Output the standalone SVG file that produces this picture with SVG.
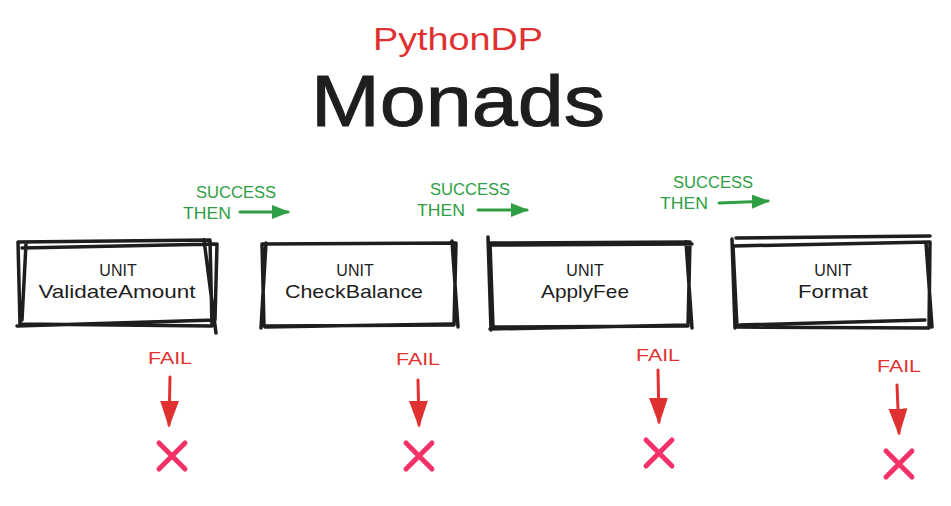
<svg xmlns="http://www.w3.org/2000/svg" width="951" height="506" viewBox="0 0 951 506">
<style>
.box{fill:none;stroke:#1e1e1e;stroke-width:3.5;stroke-linecap:round;stroke-linejoin:round}
.lbl{font-family:"Liberation Sans",Arial,sans-serif;fill:#1e1e1e;text-anchor:middle}
.g{font-family:"Liberation Sans",Arial,sans-serif;fill:#2f9e44;font-size:16px;text-anchor:middle}
.r{font-family:"Liberation Sans",Arial,sans-serif;fill:#e03131;font-size:16px;text-anchor:middle}
.ga{stroke:#2f9e44;stroke-width:3;fill:none;stroke-linecap:round}
.ra{stroke:#e03131;stroke-width:3;fill:none;stroke-linecap:round}
.x{stroke:#f5316a;stroke-width:5;stroke-linecap:round;fill:none}
</style>
<defs>
<marker id="gh" viewBox="0 0 10 10" refX="9" refY="5" markerWidth="6" markerHeight="6" orient="auto" markerUnits="strokeWidth"><path d="M0,1 L10,5 L0,9 Z" fill="#2f9e44"/></marker>
<marker id="rh" viewBox="0 0 10 10" refX="9" refY="5" markerWidth="9" markerHeight="9" orient="auto" markerUnits="strokeWidth"><path d="M0,1.5 L10,5 L0,8.5 Z" fill="#e03131"/></marker>
</defs>
<rect width="951" height="506" fill="#ffffff"/>
<g id="title">
<text x="458" y="50" font-family="'Liberation Sans',Arial,sans-serif" font-size="31" fill="#e03131" text-anchor="middle" textLength="170" lengthAdjust="spacingAndGlyphs">PythonDP</text>
<text x="458" y="126" font-family="'Liberation Sans',Arial,sans-serif" font-size="72" fill="#1e1e1e" stroke="#1e1e1e" stroke-width="1" text-anchor="middle" textLength="294" lengthAdjust="spacingAndGlyphs">Monads</text>
</g>
<g id="node-validate">
<path class="box" d="M18,242 L210,240 L212,326 L20,324 Z M22,248 L217,244 L215,320 L17,326 M26,244 L22,320 M204,240 L216,333"/>
<text class="lbl" x="118" y="276" font-size="16">UNIT</text>
<text class="lbl" x="117" y="298" font-size="19" textLength="157" lengthAdjust="spacingAndGlyphs">ValidateAmount</text>
</g>
<g id="node-check">
<path class="box" d="M262,244 L456,243 L454,325 L264,326 Z M266,243 L261,328 M452,241 L458,327 M265,327 L452,324"/>
<text class="lbl" x="355" y="276" font-size="16">UNIT</text>
<text class="lbl" x="354" y="298" font-size="19" textLength="138" lengthAdjust="spacingAndGlyphs">CheckBalance</text>
</g>
<g id="node-apply">
<path class="box" d="M490,243 L690,242 L688,326 L493,327 Z M488,237 L491,330 M491,245 L692,244 M686,242 L692,328 M490,329 L688,325"/>
<text class="lbl" x="585" y="276" font-size="16">UNIT</text>
<text class="lbl" x="585" y="298" font-size="19" textLength="88" lengthAdjust="spacingAndGlyphs">ApplyFee</text>
</g>
<g id="node-format">
<path class="box" d="M733,246 L930,242 L929,328 L737,327 Z M736,238 L930,236 M732,239 L735,328 M926,243 L932,327 M740,325 L925,320"/>
<text class="lbl" x="833" y="276" font-size="16">UNIT</text>
<text class="lbl" x="833" y="298" font-size="19" textLength="70" lengthAdjust="spacingAndGlyphs">Format</text>
</g>
<g id="connectors">
<text class="g" x="236" y="198" textLength="80" lengthAdjust="spacingAndGlyphs">SUCCESS</text>
<text class="g" x="207" y="219" textLength="48" lengthAdjust="spacingAndGlyphs">THEN</text>
<path class="ga" d="M240,212 L288,212" marker-end="url(#gh)"/>
<text class="g" x="470" y="195" textLength="80" lengthAdjust="spacingAndGlyphs">SUCCESS</text>
<text class="g" x="441" y="216" textLength="48" lengthAdjust="spacingAndGlyphs">THEN</text>
<path class="ga" d="M478,210 L527,210" marker-end="url(#gh)"/>
<text class="g" x="713" y="188" textLength="80" lengthAdjust="spacingAndGlyphs">SUCCESS</text>
<text class="g" x="684" y="209" textLength="48" lengthAdjust="spacingAndGlyphs">THEN</text>
<path class="ga" d="M719,203 L768,201" marker-end="url(#gh)"/>
<text class="r" x="170" y="364" textLength="44" lengthAdjust="spacingAndGlyphs">FAIL</text>
<path class="ra" d="M170,377 L169,425" marker-end="url(#rh)"/>
<text class="r" x="418" y="365" textLength="44" lengthAdjust="spacingAndGlyphs">FAIL</text>
<path class="ra" d="M418,380 L419,425" marker-end="url(#rh)"/>
<text class="r" x="658" y="361" textLength="44" lengthAdjust="spacingAndGlyphs">FAIL</text>
<path class="ra" d="M658,370 L659,422" marker-end="url(#rh)"/>
<text class="r" x="899" y="372" textLength="44" lengthAdjust="spacingAndGlyphs">FAIL</text>
<path class="ra" d="M897,385 L899,433" marker-end="url(#rh)"/>
<path class="x" d="M159,443 L185,469 M185,443 L159,469"/>
<path class="x" d="M406,443 L432,469 M432,443 L406,469"/>
<path class="x" d="M646,440 L672,466 M672,440 L646,466"/>
<path class="x" d="M886,451 L912,477 M912,451 L886,477"/>
</g>
</svg>
